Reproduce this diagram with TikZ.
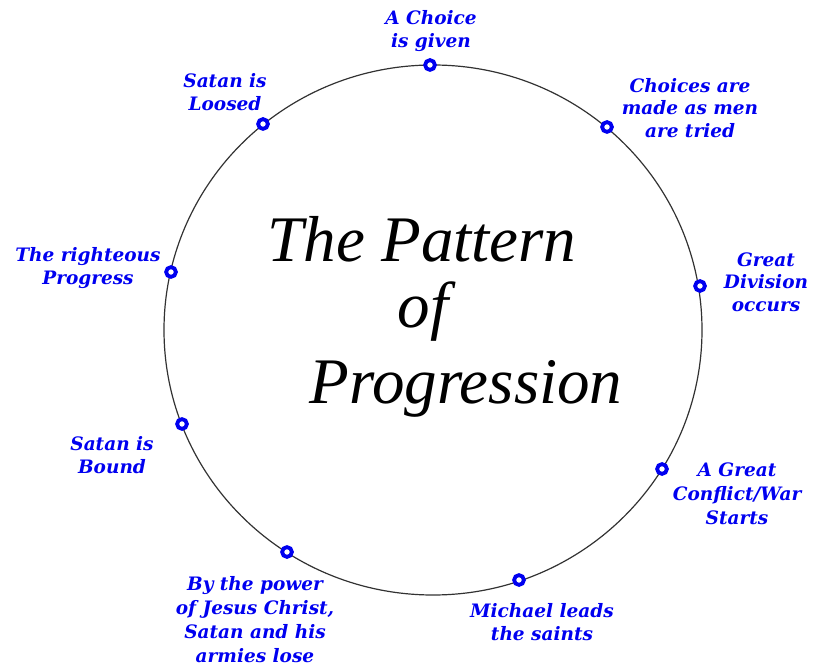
\documentclass[tikz,border=0pt]{standalone}
\usepackage{fontspec}
\newfontfamily\lblfont{DejaVu Serif}
\newfontfamily\ttlfont{Liberation Serif}
\definecolor{lblblue}{RGB}{0,0,240}
\definecolor{ringgray}{RGB}{50,50,50}
\tikzset{
  lbl/.style={text=lblblue, align=center, inner sep=0pt,
    font=\lblfont\bfseries\itshape\fontsize{18.5}{22.5}\selectfont},
  lblwide/.style={lbl, font=\lblfont\bfseries\itshape\fontsize{18.5}{24}\selectfont},
  ring/.style={circle, draw=lblblue, line width=3.8pt, fill=white,
    minimum size=9.8pt, inner sep=0pt},
  ttl/.style={inner sep=0pt, anchor=base, font=\ttlfont\itshape\fontsize{65}{66}\selectfont}
}
\begin{document}
\begin{tikzpicture}[x=1pt,y=-1pt]
\useasboundingbox (0,0) rectangle (814,668);
\coordinate (c) at (433,330);
\draw[ringgray, line width=1.2pt] (c) ellipse[x radius=269pt, y radius=265pt];
% markers
\node[ring] (m1) at (430,65) {};
\node[ring] (m2) at (607,127) {};
\node[ring] (m3) at (700,286) {};
\node[ring] (m4) at (662,469) {};
\node[ring] (m5) at (519,580) {};
\node[ring] (m6) at (287,552) {};
\node[ring] (m7) at (182,424) {};
\node[ring] (m8) at (171,272) {};
\node[ring] (m9) at (263,124) {};
% labels
\node[lbl] (l1) at (431,31) {A Choice\\is given};
\node[lbl] (l2) at (690,108) {Choices are\\made as men\\are tried};
\node[lbl] (l3) at (766,282) {Great\\Division\\occurs};
\node[lblwide] (l4) at (737,494) {A Great\\Conflict/War\\Starts};
\node[lbl] (l5) at (542,622) {Michael leads\\the saints};
\node[lblwide] (l6) at (255,620) {By the power\\of Jesus Christ,\\Satan and his\\armies lose};
\node[lbl] (l7) at (112,455) {Satan is\\Bound};
\node[lbl] (l8) at (88,268) {The righteous\\Progress};
\node[lbl] (l9) at (225,92) {Satan is\\Loosed};
% title
\node[ttl] (t1) at (422,262) {The Pattern};
\node[ttl] (t2) at (423,327) {of};
\node[ttl] (t3) at (466,403) {Progression};
\end{tikzpicture}
\end{document}
